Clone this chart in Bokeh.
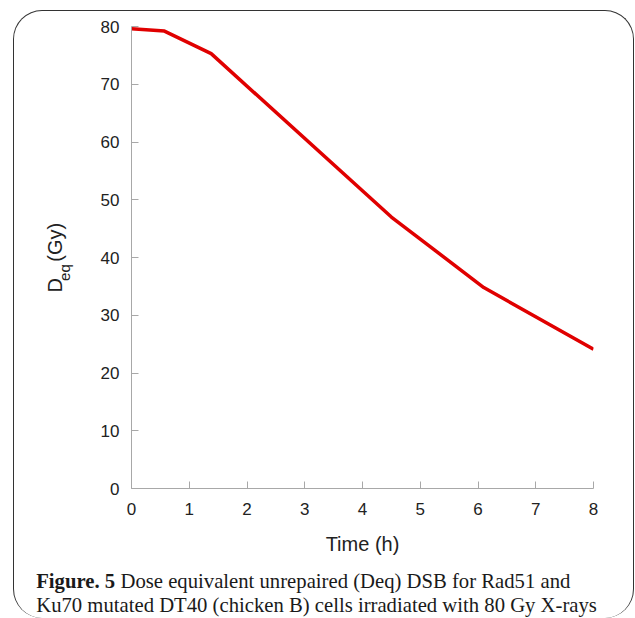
import math
from bokeh.plotting import figure
from bokeh.models import Range1d, Label, FixedTicker
from bokeh.layouts import row, column
from bokeh.embed import file_html
from bokeh.resources import INLINE

# ---- data ----
time_h = [0.0, 0.57, 1.38, 4.5, 6.1, 8.0]
deq_gy = [79.6, 79.2, 75.3, 47.0, 34.8, 24.1]
x_ticks = [0, 1, 2, 3, 4, 5, 6, 7, 8]
y_ticks = [0, 10, 20, 30, 40, 50, 60, 70, 80]
x_label = "Time (h)"
y_label_main = "D"
y_label_sub = "eq"
y_label_unit = "(Gy)"
caption_bold = "Figure. 5"
caption_1 = "Dose equivalent unrepaired (Deq) DSB for Rad51 and"
caption_2 = "Ku70 mutated DT40 (chicken B) cells irradiated with 80 Gy X-rays"

TOP_H = 553      # height of the chart row
YLAB_W = 70      # width of the y-label strip
MAIN_W = 549
CAP_H = 54
TOTAL_W = YLAB_W + MAIN_W

def blank(w, h):
    f = figure(width=w, height=h, output_backend="svg", toolbar_location=None,
               title=None,
               x_range=Range1d(0, w), y_range=Range1d(0, h),
               x_axis_type=None, y_axis_type=None,
               min_border=0, min_border_left=0, min_border_right=0,
               min_border_top=0, min_border_bottom=0)
    f.background_fill_color = None
    f.border_fill_color = None
    f.outline_line_color = None
    f.grid.visible = False
    return f

# ---- main chart ----
p = figure(width=MAIN_W, height=TOP_H, output_backend="svg", toolbar_location=None,
           title=None,
           x_range=Range1d(0, 8), y_range=Range1d(0, 80),
           min_border_left=47, min_border_right=40,
           min_border_top=15, min_border_bottom=76)
p.background_fill_color = None
p.border_fill_color = None
p.outline_line_color = None
p.grid.visible = False

p.line(time_h, deq_gy, line_color="#e00000", line_width=3.5, line_join="round")

for ax in (p.xaxis[0], p.yaxis[0]):
    ax.axis_line_color = "#a8a8a8"
    ax.major_tick_line_color = "#a8a8a8"
    ax.major_tick_in = 7
    ax.major_tick_out = 0
    ax.minor_tick_line_color = None
    ax.major_label_text_font = "Liberation Sans"
    ax.major_label_text_font_size = "17px"
    ax.major_label_text_color = "#222222"

p.xaxis[0].ticker = FixedTicker(ticks=x_ticks)
p.yaxis[0].ticker = FixedTicker(ticks=y_ticks)
p.xaxis[0].major_label_standoff = 14
p.yaxis[0].major_label_standoff = 12
p.xaxis[0].axis_label = x_label
p.xaxis[0].axis_label_text_font = "Liberation Sans"
p.xaxis[0].axis_label_text_font_size = "20px"
p.xaxis[0].axis_label_text_font_style = "normal"
p.xaxis[0].axis_label_text_color = "#222222"
p.xaxis[0].axis_label_standoff = 15

# ---- y-axis label strip: D_eq (Gy) ----
yl = blank(YLAB_W, TOP_H)
DX, DY = -8, 34   # empirical correction of label placement
def yl_y(page_y):
    return TOP_H - (page_y + DY - 11)
common = dict(angle=math.pi / 2, text_font="Liberation Sans", text_color="#222222",
              text_align="left", text_baseline="alphabetic")
yl.add_layout(Label(x=48 + DX, y=yl_y(295.5), text=y_label_main, text_font_size="20px", **common))
yl.add_layout(Label(x=58 + DX, y=yl_y(281.5), text=y_label_sub, text_font_size="15px", **common))
yl.add_layout(Label(x=48 + DX, y=yl_y(258.5), text=y_label_unit, text_font_size="20px", **common))

# ---- caption strip ----
cp = blank(TOTAL_W, CAP_H)
CY = -6
def cp_y(page_y):
    return CAP_H - (page_y + CY - 564)
cap = dict(text_font="Liberation Serif", text_color="#1a1a1a", text_font_size="20.7px",
           text_align="left", text_baseline="alphabetic")
cp.add_layout(Label(x=21.7, y=cp_y(586), text=caption_bold, text_font_style="bold", **cap))
cp.add_layout(Label(x=106, y=cp_y(586), text=caption_1, **cap))
cp.add_layout(Label(x=21.7, y=cp_y(610), text=caption_2, **cap))

layout = column(row(yl, p, spacing=0), cp, spacing=0)
layout.margin = (10, 0, 0, 13)
layout.styles = {"border": "1px solid #333", "border-bottom": "none",
                 "border-radius": "29px"}

open("out.html", "w").write(file_html(layout, INLINE))
